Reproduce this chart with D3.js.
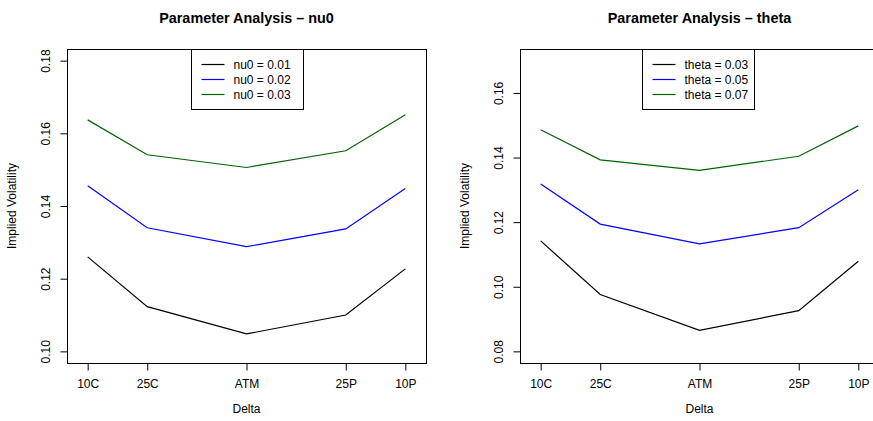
<!DOCTYPE html>
<html>
<head>
<meta charset="utf-8">
<script src="https://cdn.jsdelivr.net/npm/d3@7"></script>
<style>
  body { margin: 0; background: #fff; }
  svg { display: block; font-family: 'Liberation Sans', Arial, Helvetica, sans-serif; }
</style>
</head>
<body>
<svg id="chart"></svg>
<script>
// x categories and where they sit on the delta axis
const deltaLabels = ['10C', '25C', 'ATM', '25P', '10P'];
const deltaPos = [10, 25, 50, 75, 90];

// left panel: nu0
const nu0Levels = [0.01, 0.02, 0.03];
const nu0Vol = [
  [0.1260, 0.1123, 0.1048, 0.1100, 0.1227],
  [0.1456, 0.1340, 0.1288, 0.1337, 0.1448],
  [0.1637, 0.1541, 0.1506, 0.1552, 0.1651]
];
const nu0Ylim = [0.10, 0.18];
const nu0Ticks = [0.10, 0.12, 0.14, 0.16, 0.18];

// right panel: theta
const thetaLevels = [0.03, 0.05, 0.07];
const thetaVol = [
  [0.1142, 0.0976, 0.0865, 0.0926, 0.1079],
  [0.1318, 0.1194, 0.1133, 0.1183, 0.1300],
  [0.1486, 0.1393, 0.1360, 0.1404, 0.1498]
];
const thetaYlim = [0.08, 0.17];
const thetaTicks = [0.08, 0.10, 0.12, 0.14, 0.16];

const lineColors = ['#000000', '#0000ff', '#006400'];

const svgWidth = 873;
const svgHeight = 421;
const plotTop = 49;
const plotBottom = 363;
const plotWidth = 359;

const svg = d3.select('#chart')
  .attr('width', svgWidth)
  .attr('height', svgHeight);

// R style 4% padding on the axis limits
const pad = (lim) => {
  const r = lim[1] - lim[0];
  return [lim[0] - 0.04 * r, lim[1] + 0.04 * r];
};

function drawPanel(left, name, levels, vols, ylim, yTicks, legendX) {
  const g = svg.append('g');

  const xScale = d3.scaleLinear()
    .domain([4.79, 95.21])
    .range([left, left + plotWidth]);

  const yScale = d3.scaleLinear()
    .domain(pad(ylim))
    .range([plotBottom, plotTop]);

  // lines
  const line = d3.line()
    .x((d, i) => xScale(deltaPos[i]))
    .y(d => yScale(d));

  vols.forEach((series, k) => {
    g.append('path')
      .datum(series)
      .attr('d', line)
      .attr('fill', 'none')
      .attr('stroke', lineColors[k])
      .attr('stroke-width', 1.2);
  });

  // box
  g.append('rect')
    .attr('x', left + 0.5)
    .attr('y', plotTop + 0.5)
    .attr('width', plotWidth)
    .attr('height', plotBottom - plotTop)
    .attr('fill', 'none')
    .attr('stroke', '#000')
    .attr('stroke-width', 1);

  // x axis
  const xAxis = d3.axisBottom(xScale)
    .tickValues(deltaPos)
    .tickFormat((d, i) => deltaLabels[i])
    .tickSize(7)
    .tickPadding(9)
    .tickSizeOuter(0);

  const gx = g.append('g')
    .attr('transform', `translate(0, ${plotBottom + 0.5})`)
    .call(xAxis);
  gx.select('.domain').remove();
  gx.selectAll('text')
    .attr('font-size', 12)
    .attr('font-family', null)
    .attr('fill', '#000');

  // y axis
  const yAxis = d3.axisLeft(yScale)
    .tickValues(yTicks)
    .tickFormat(d3.format('.2f'))
    .tickSize(7)
    .tickSizeOuter(0);

  const gy = g.append('g')
    .attr('transform', `translate(${left + 0.5}, 0)`)
    .call(yAxis);
  gy.select('.domain').remove();
  gy.selectAll('text')
    .attr('font-size', 12)
    .attr('font-family', null)
    .attr('fill', '#000')
    .attr('x', null)
    .attr('dy', null)
    .attr('text-anchor', 'middle')
    .attr('transform', 'translate(-18, 0) rotate(-90)');

  // titles and axis labels
  g.append('text')
    .attr('x', left + plotWidth / 2)
    .attr('y', 23)
    .attr('text-anchor', 'middle')
    .attr('font-size', 14.4)
    .attr('font-weight', 'bold')
    .text(`Parameter Analysis \u2013 ${name}`);

  g.append('text')
    .attr('x', left + plotWidth / 2)
    .attr('y', 413)
    .attr('text-anchor', 'middle')
    .attr('font-size', 12)
    .text('Delta');

  g.append('text')
    .attr('transform', `translate(${left - 51}, ${(plotTop + plotBottom) / 2}) rotate(-90)`)
    .attr('text-anchor', 'middle')
    .attr('font-size', 12)
    .text('Implied Volatility');

  // legend
  const legend = g.append('g')
    .attr('transform', `translate(${legendX}, ${plotTop})`);

  legend.append('rect')
    .attr('x', 0.5)
    .attr('y', 0.5)
    .attr('width', 112)
    .attr('height', 60)
    .attr('fill', '#fff')
    .attr('stroke', '#000');

  levels.forEach((lv, k) => {
    const ry = 15.5 + k * 15;
    legend.append('line')
      .attr('x1', 10.5)
      .attr('x2', 33.5)
      .attr('y1', ry)
      .attr('y2', ry)
      .attr('stroke', lineColors[k])
      .attr('stroke-width', 1.2);
    legend.append('text')
      .attr('x', 42.5)
      .attr('y', ry + 4.3)
      .attr('font-size', 12)
      .text(`${name} = ${lv.toFixed(2)}`);
  });
}

drawPanel(67, 'nu0', nu0Levels, nu0Vol, nu0Ylim, nu0Ticks, 191);
drawPanel(520, 'theta', thetaLevels, thetaVol, thetaYlim, thetaTicks, 642);
</script>
</body>
</html>
